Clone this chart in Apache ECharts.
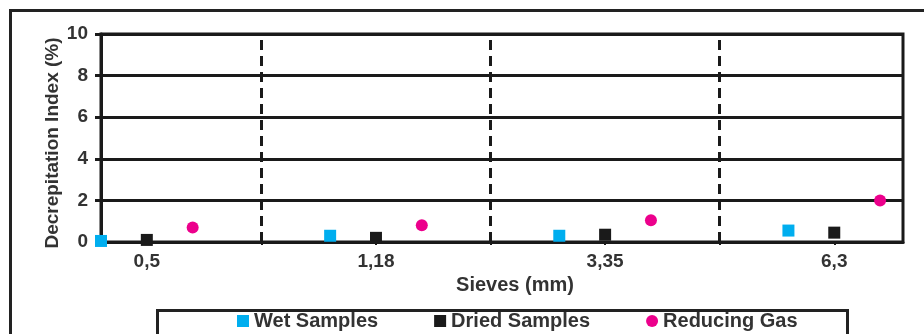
<!DOCTYPE html>
<html>
<head>
<meta charset="utf-8">
<script src="https://cdn.jsdelivr.net/npm/echarts@6/dist/echarts.min.js"></script>
<style>html,body{margin:0;padding:0;background:#fff;}#c{width:924px;height:334px;}</style>
</head>
<body>
<div id="c"></div>
<script>
const sieves = ['0,5', '1,18', '3,35', '6,3'];
const wetSamples = [0.05, 0.3, 0.3, 0.55];
const driedSamples = [0.1, 0.2, 0.35, 0.45];
const reducingGas = [0.7, 0.8, 1.05, 2.0];
const yMin = 0, yMax = 10, yStep = 2;

const FONT = '"Liberation Sans", Arial, sans-serif';
const TXT = '#333';
// group position = index+1; series offsets within a group
const pts = (arr, off) => arr.map((v, i) => [i + 1 + off, v]);
const groupPos = sieves.map((s, i) => i + 1);
const separators = sieves.slice(0, -1).map((s, i) => i + 1.5);

const chart = echarts.init(document.getElementById('c'), null, {renderer: 'canvas'});
chart.setOption({
  animation: false,
  backgroundColor: '#fff',
  grid: {left: 101, right: 21, top: 34, bottom: 92, show: true, borderColor: '#1a1a1a', borderWidth: 3, backgroundColor: 'transparent'},
  xAxis: {
    type: 'value', min: 0.8, max: 4.3,
    name: 'Sieves (mm)', nameLocation: 'middle', nameGap: 33, nameMoveOverlap: false,
    nameTextStyle: {fontFamily: FONT, fontWeight: 'bold', fontSize: 20, color: TXT, padding: [0, 0, 0, 26]},
    axisLine: {show: true, onZero: false, lineStyle: {color: '#1a1a1a', width: 3}},
    axisTick: {show: true, customValues: groupPos.concat(separators), length: 3, lineStyle: {color: '#1a1a1a', width: 2}},
    axisLabel: {customValues: groupPos, formatter: v => sieves[Math.round(v) - 1] || '', fontFamily: FONT, fontWeight: 'bold', fontSize: 19, color: TXT, margin: 10},
    splitLine: {show: false}
  },
  yAxis: {
    type: 'value', min: yMin, max: yMax, interval: yStep,
    name: 'Decrepitation Index (%)', nameLocation: 'middle', nameGap: 39, nameMoveOverlap: false,
    nameTextStyle: {fontFamily: FONT, fontWeight: 'bold', fontSize: 19, color: TXT, padding: [0, 10, 0, 0]},
    axisLine: {show: true, lineStyle: {color: '#1a1a1a', width: 3}},
    axisTick: {show: true, length: 6, lineStyle: {color: '#1a1a1a', width: 3}},
    axisLabel: {fontFamily: FONT, fontWeight: 'bold', fontSize: 19, color: TXT, margin: 13},
    splitLine: {show: true, lineStyle: {color: '#1a1a1a', width: 3}}
  },
  legend: {
    left: 237, top: 311, padding: 0, itemGap: 56, itemWidth: 12, itemHeight: 12,
    textStyle: {fontFamily: FONT, fontWeight: 'bold', fontSize: 20, color: TXT},
    data: [{name: 'Wet Samples', icon: 'rect'}, {name: 'Dried Samples', icon: 'rect'}, {name: 'Reducing Gas', icon: 'circle'}]
  },
  graphic: [
    {type: 'rect', left: 8, top: 8, shape: {width: 940, height: 360}, style: {fill: 'none', stroke: '#222', lineWidth: 3}, silent: true},
    {type: 'rect', left: 155, top: 308, shape: {width: 690, height: 40}, style: {fill: 'none', stroke: '#222', lineWidth: 3}, silent: true}
  ],
  series: [
    {
      name: 'Wet Samples', type: 'scatter', symbol: 'rect', symbolSize: 12, clip: false, z: 5,
      itemStyle: {color: '#00AEEF', opacity: 1}, data: pts(wetSamples, -0.2),
      markLine: {
        silent: true, symbol: 'none', label: {show: false}, z: 3,
        lineStyle: {color: '#1a1a1a', width: 3, type: [10, 6]},
        data: separators.map(x => ({xAxis: x}))
      }
    },
    {name: 'Dried Samples', type: 'scatter', symbol: 'rect', symbolSize: 12, clip: false, z: 5, itemStyle: {color: '#1a1a1a', opacity: 1}, data: pts(driedSamples, 0)},
    {name: 'Reducing Gas', type: 'scatter', symbol: 'circle', symbolSize: 12, clip: false, z: 5, itemStyle: {color: '#EC008C', opacity: 1}, data: pts(reducingGas, 0.2)}
  ]
});
</script>
</body>
</html>
